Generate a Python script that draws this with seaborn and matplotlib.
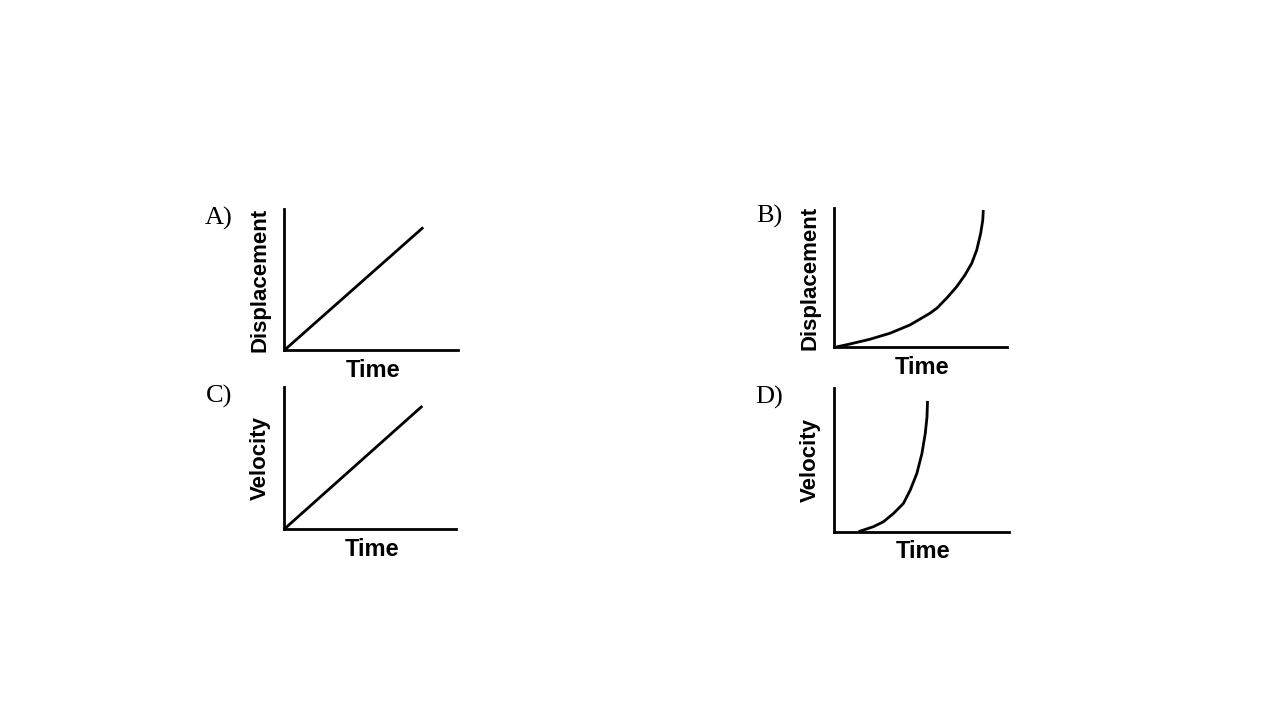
import matplotlib
matplotlib.use("Agg")
import matplotlib.pyplot as plt
import seaborn as sns

# Values (axes run 0..10 in both directions)
a_time = [0, 8.0]
a_disp = [0, 8.7]

b_time = [0, 0.92, 2.08, 3.24, 4.39, 5.55, 5.94, 6.51, 7.09, 7.57, 7.96, 8.25, 8.48, 8.60, 8.63]
b_disp = [0, 0.25, 0.59, 1.02, 1.61, 2.45, 2.80, 3.52, 4.34, 5.18, 6.01, 6.96, 8.16, 9.11, 9.82]

c_time = [0, 8.04]
c_vel = [0, 8.68]

d_time = [1.40, 2.26, 2.83, 3.41, 3.98, 4.37, 4.75, 5.04, 5.23, 5.33, 5.36]
d_vel = [0, 0.35, 0.69, 1.27, 1.97, 2.90, 4.06, 5.45, 6.84, 7.99, 9.10]

panel_letters = ["A)", "B)", "C)", "D)"]
y_labels = ["Displacement", "Displacement", "Velocity", "Velocity"]
x_label = "Time"

sns.set_style("white")
plt.rcParams['font.family'] = ['Liberation Sans', 'DejaVu Sans']
plt.rcParams['text.color'] = 'black'

W, H = 1280, 720
fig = plt.figure(figsize=(W / 100, H / 100), dpi=100)
fig.patch.set_facecolor("white")

# pixel boxes: left, right, bottom, top
boxes = [
    (284, 458, 350.5, 209),
    (834, 1007, 347.5, 207.5),
    (284, 456, 529.3, 387.3),
    (834, 1008.5, 531.7, 388),
]
series = [(a_time, a_disp), (b_time, b_disp), (c_time, c_vel), (d_time, d_vel)]


def px(x, y):
    return x / W, 1 - y / H


for i, ((l, r, b, t), (xs, ys)) in enumerate(zip(boxes, series)):
    ax = fig.add_axes([l / W, 1 - b / H, (r - l) / W, (b - t) / H])
    sns.lineplot(x=xs, y=ys, ax=ax, color="black", linewidth=2.0,
                 sort=False, estimator=None)
    for line in ax.lines:
        line.set_solid_joinstyle("round")
        line.set_solid_capstyle("butt")
    ax.set_xlim(0, 10)
    ax.set_ylim(0, 10)
    ax.set_xticks([])
    ax.set_yticks([])
    ax.set_xlabel("")
    ax.set_ylabel("")
    ax.patch.set_alpha(0)
    for side in ["top", "right"]:
        ax.spines[side].set_visible(False)
    for side in ["left", "bottom"]:
        ax.spines[side].set_color("black")
        ax.spines[side].set_linewidth(2.0)

    # axis labels
    fig.text(*px(l - 24, (b + t) / 2), y_labels[i], rotation=90,
             ha="center", va="center", fontsize=16, fontweight="bold")
    fig.text(*px((l + r) / 2 + 2, b + 20), x_label,
             ha="center", va="center", fontsize=17, fontweight="bold")
    # panel letter
    fig.text(*px(l - 65, t + 9), panel_letters[i],
             ha="center", va="center", fontsize=19,
             family=["Liberation Serif", "DejaVu Serif"])

fig.savefig("out.png", dpi=100, facecolor="white")
